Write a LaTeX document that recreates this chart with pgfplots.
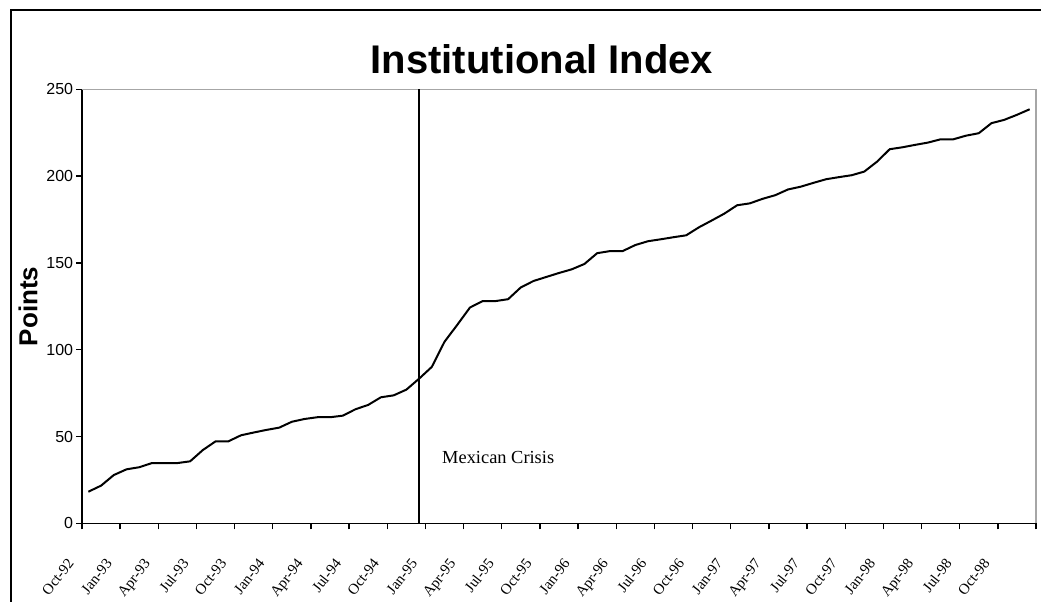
\documentclass[border=0pt]{standalone}
\usepackage{pgfplots}
\pgfplotsset{compat=1.18}
\usepackage{pgfplotstable}
\usepackage{fontspec}
\setmainfont{Liberation Serif}
\newfontfamily\arial{Liberation Sans}

\pgfplotstableread{
i v
0 18.2
1 21.7
2 27.8
3 31.1
4 32.3
5 34.7
6 34.7
7 34.7
8 35.7
9 42.2
10 47.2
11 47.2
12 50.7
13 52.3
14 53.8
15 55.1
16 58.5
17 60.1
18 61.1
19 61.1
20 62.0
21 65.7
22 68.2
23 72.6
24 73.7
25 77.0
26 83.3
27 90.1
28 104.6
29 114.3
30 124.3
31 128.0
32 128.0
33 129.1
34 135.9
35 139.6
36 141.9
37 144.2
38 146.3
39 149.4
40 155.6
41 156.8
42 156.8
43 160.3
44 162.5
45 163.6
46 164.8
47 165.9
48 170.5
49 174.4
50 178.4
51 183.2
52 184.3
53 186.9
54 189.0
55 192.3
56 193.9
57 196.1
58 198.2
59 199.4
60 200.5
61 202.6
62 208.3
63 215.5
64 216.6
65 218.0
66 219.3
67 221.2
68 221.2
69 223.3
70 224.7
71 230.5
72 232.4
73 235.3
74 238.5
}\indexdata

\begin{document}
\begin{tikzpicture}
\path[use as bounding box] (0pt,0pt) rectangle (780.75pt,450.75pt);
\draw[line width=1.5pt] (8.25pt,-10pt) -- (8.25pt,443.25pt) -- (790pt,443.25pt);
\begin{axis}[
  at={(61.5pt,58.275pt)}, anchor=origin,
  scale only axis, width=715.5pt, height=325.5pt,
  xmin=0, xmax=75, ymin=0, ymax=250,
  axis lines=left,
  axis line style={-, line width=1.2pt, black},
  xtick={0,3,...,75},
  xticklabels={Oct-92,Jan-93,Apr-93,Jul-93,Oct-93,Jan-94,Apr-94,Jul-94,Oct-94,Jan-95,Apr-95,Jul-95,Oct-95,Jan-96,Apr-96,Jul-96,Oct-96,Jan-97,Apr-97,Jul-97,Oct-97,Jan-98,Apr-98,Jul-98,Oct-98,{}},
  ytick={0,50,...,250},
  tick align=outside,
  major tick length=4.5pt,
  tick style={black, line width=1pt},
  xticklabel style={xshift=-11.5pt, yshift=-21pt, rotate=52, anchor=north east, inner sep=0pt, font=\fontsize{11.2}{13}\selectfont},
  yticklabel style={anchor=east, inner sep=0pt, xshift=-2pt, font=\fontsize{12}{14}\arial},
  /pgf/number format/assume math mode=true,
  title={Institutional Index},
  title style={at={(axis description cs:0.482,1.017)}, anchor=base, font=\fontsize{30}{34}\arial\bfseries},
  ylabel={Points},
  ylabel style={at={(axis description cs:-0.0566,0.5)}, rotate=0, anchor=center, font=\fontsize{19.5}{22}\arial\bfseries},
  clip=false,
]
\draw[gray!70, line width=0.8pt] (rel axis cs:0,1) -- (rel axis cs:1,1) -- (rel axis cs:1,0);
\addplot[black, line width=1.2pt, no marks] coordinates {(26.5,0) (26.5,250)};
\addplot[black, line width=1.5pt, no marks, line join=round] table[x expr=\thisrow{i}+0.5, y=v] {\indexdata};
\node[anchor=base west, font=\fontsize{13.8}{16}\selectfont, inner sep=0pt] at (axis cs:28.3,34.6) {Mexican Crisis};
\end{axis}
\end{tikzpicture}
\end{document}
